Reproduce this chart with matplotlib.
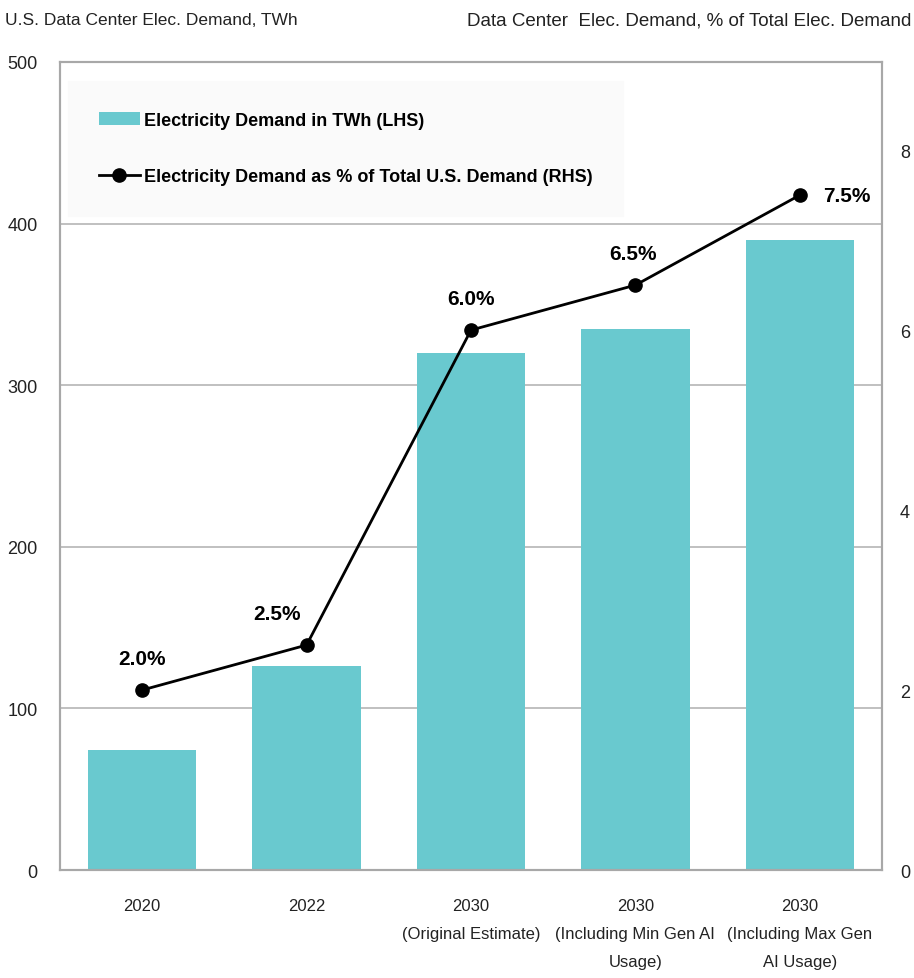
import matplotlib
matplotlib.use("Agg")
import matplotlib.pyplot as plt
from matplotlib.lines import Line2D
from matplotlib.patches import Patch

categories = ["2020", "2022", "2030\n(Original Estimate)",
              "2030\n(Including Min Gen AI\nUsage)", "2030\n(Including Max Gen\nAI Usage)"]
twh = [74, 126, 320, 335, 390]
pct = [2.0, 2.5, 6.0, 6.5, 7.5]
pct_labels = ["2.0%", "2.5%", "6.0%", "6.5%", "7.5%"]

plt.rcParams['font.family'] = ['Liberation Sans Narrow', 'Liberation Sans', 'DejaVu Sans']

fig = plt.figure(figsize=(9.14, 9.79), dpi=100)
ax = fig.add_axes([0.0656, 0.1103, 0.8994, 0.8254])
ax2 = ax.twinx()

bar_color = "#69C9CF"
x = list(range(len(categories)))
ax.bar(x, twh, width=0.66, color=bar_color, zorder=2)
ax.set_xlim(-0.5, 4.5)
ax.set_ylim(0, 500)
ax.set_yticks([0, 100, 200, 300, 400, 500])
ax.yaxis.grid(True, color="#b5b5b5", linewidth=1.2, zorder=0)
ax.set_axisbelow(True)
ax.set_xticks(x)
ax.set_xticklabels(categories, fontsize=12, color="#222222", linespacing=2.1)
ax.tick_params(axis='both', length=0, colors="#222222")
ax.tick_params(axis='y', labelsize=13, pad=16)
ax.tick_params(axis='x', pad=20)

ax2.plot(x, pct, color="black", linewidth=2.0, marker='o', markersize=9.5, zorder=5)
ax2.set_ylim(0, 8.98)
ax2.set_yticks([0, 2, 4, 6, 8])
ax2.tick_params(axis='y', length=0, labelsize=13, colors="#222222", pad=13)

offsets = [(0, 23), (-21, 23), (0, 23), (-2, 23), (34, 0)]
for i, (v, lab) in enumerate(zip(pct, pct_labels)):
    ax2.annotate(lab, (i, v), xytext=offsets[i], textcoords='offset points',
                 ha='center', va='center', fontsize=15, fontweight='bold',
                 bbox=dict(boxstyle='square,pad=0.2', facecolor='white',
                           edgecolor='none', alpha=0.9))

for a in (ax, ax2):
    for s in a.spines.values():
        s.set_color("#a8a8a8")
        s.set_linewidth(1.5)

handles = [Patch(facecolor=bar_color, edgecolor='none'),
           Line2D([0], [0], color='black', linewidth=2.0, marker='o', markersize=9.5)]
labels = ["Electricity Demand in TWh (LHS)",
          "Electricity Demand as % of Total U.S. Demand (RHS)"]
leg = ax2.legend(handles, labels, loc='upper left', bbox_to_anchor=(0.0097, 0.9765),
                 borderaxespad=0,
                 frameon=True, fancybox=False, framealpha=1, facecolor="#fafafa",
                 edgecolor="#fafafa", prop={'weight': 'bold', 'size': 13},
                 handlelength=2.3, handletextpad=0.2, labelspacing=2.2,
                 borderpad=1.7)

fig.text(0.005, 0.979, "U.S. Data Center Elec. Demand, TWh", fontsize=12.5,
         ha='left', va='center', color="#222222")
fig.text(0.997, 0.979, "Data Center  Elec. Demand, % of Total Elec. Demand", fontsize=13.5,
         ha='right', va='center', color="#222222")

fig.savefig("out.png", dpi=100, facecolor='white')
